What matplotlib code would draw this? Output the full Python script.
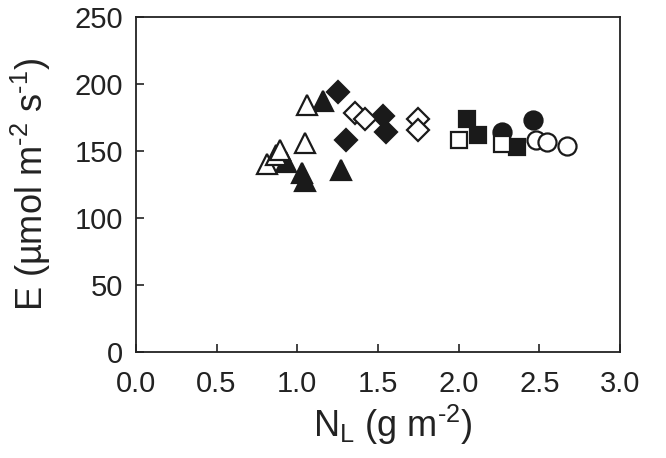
import matplotlib
matplotlib.use("Agg")
import matplotlib.pyplot as plt

plt.rcParams['font.family'] = ['Liberation Sans', 'DejaVu Sans']
plt.rcParams['mathtext.fontset'] = 'custom'
plt.rcParams['mathtext.rm'] = 'Liberation Sans'
plt.rcParams['mathtext.it'] = 'Liberation Sans:italic'

# data (N_L in g m-2, E in umol m-2 s-1)
tri_fill_x = [0.93, 1.03, 1.05, 1.27, 1.16]
tri_fill_y = [142, 134, 128, 136, 187]
tri_open_x = [0.81, 0.87, 0.89, 1.05, 1.06]
tri_open_y = [140, 147, 151, 156, 184]

dia_fill_x = [1.25, 1.30, 1.53, 1.55]
dia_fill_y = [194, 158, 176, 164]
dia_open_x = [1.36, 1.42, 1.75, 1.75]
dia_open_y = [178, 174, 174, 166]

sq_fill_x = [2.05, 2.12, 2.36]
sq_fill_y = [174, 162, 153]
sq_open_x = [2.00, 2.27]
sq_open_y = [158, 155]

cir_fill_x = [2.27, 2.46]
cir_fill_y = [164, 173]
cir_open_x = [2.48, 2.55, 2.67]
cir_open_y = [158, 157, 154]

xticks = [0.0, 0.5, 1.0, 1.5, 2.0, 2.5, 3.0]
yticks = [0, 50, 100, 150, 200, 250]

fig = plt.figure(figsize=(6.66, 4.58), dpi=100)
ax = fig.add_axes([0.204, 0.231, 0.727, 0.732])

blk = '#1a1a1a'
ew = 1.6
# filled series first, open ones on top
ax.plot(tri_fill_x, tri_fill_y, '^', ms=14, color=blk, mec=blk, mew=ew, ls='none')
ax.plot(dia_fill_x, dia_fill_y, 'D', ms=11, color=blk, mec=blk, mew=ew, ls='none')
ax.plot(sq_fill_x, sq_fill_y, 's', ms=11.5, color=blk, mec=blk, mew=ew, ls='none')
ax.plot(cir_fill_x, cir_fill_y, 'o', ms=13, color=blk, mec=blk, mew=ew, ls='none')

ax.plot(tri_open_x, tri_open_y, '^', ms=14, mfc='white', mec=blk, mew=ew, ls='none')
ax.plot(dia_open_x, dia_open_y, 'D', ms=11, mfc='white', mec=blk, mew=ew, ls='none')
ax.plot(sq_open_x, sq_open_y, 's', ms=11.5, mfc='white', mec=blk, mew=ew, ls='none')
ax.plot(cir_open_x, cir_open_y, 'o', ms=13, mfc='white', mec=blk, mew=ew, ls='none')

ax.set_xlim(0, 3.0)
ax.set_ylim(0, 250)
ax.set_xticks(xticks)
ax.set_xticklabels([f'{v:.1f}' for v in xticks])
ax.set_yticks(yticks)
ax.tick_params(direction='in', length=6, width=1.2, labelsize=21, colors='#222222')
ax.tick_params(axis='x', pad=13)
ax.tick_params(axis='y', pad=9)
for s in ax.spines.values():
    s.set_linewidth(1.3)
    s.set_color('#222222')

ax.set_xlabel('N$_\\mathregular{L}$ (g m$^{\\mathregular{\u20102}}$)', fontsize=26, color='#222222',
              labelpad=3, x=0.53)
ax.set_ylabel('E (µmol m$^{\\mathregular{\u20102}}$ s$^{\\mathregular{\u20101}}$)', fontsize=26, color='#222222',
              labelpad=16)

fig.savefig('out.png', dpi=100)
